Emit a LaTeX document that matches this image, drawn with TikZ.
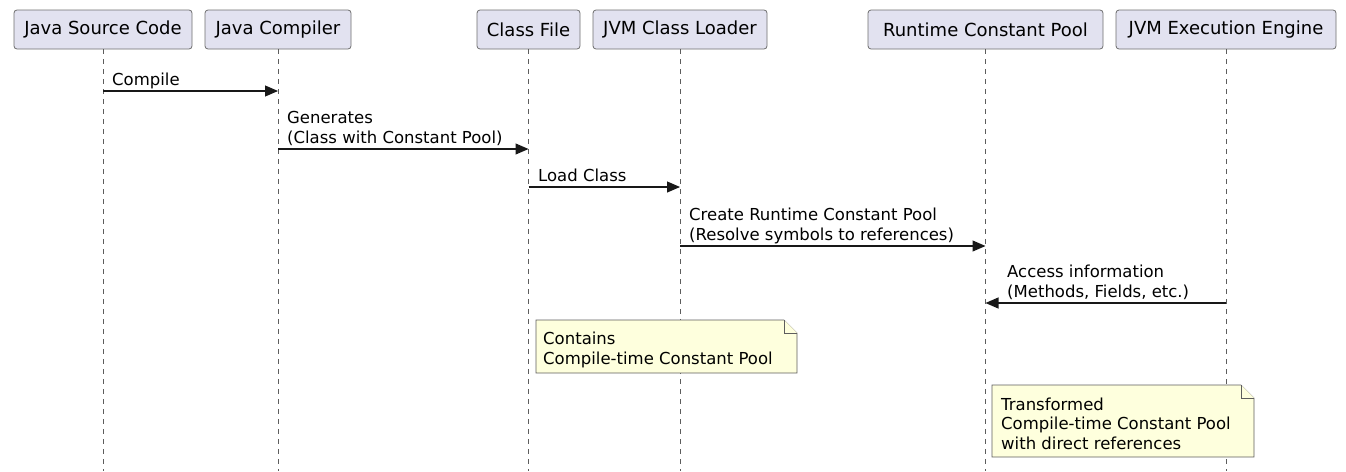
\documentclass[tikz,border=0pt]{standalone}
\usepackage{fontspec}
\setmainfont{DejaVu Sans}
\usetikzlibrary{arrows.meta}
\definecolor{partfill}{HTML}{E2E2F0}
\definecolor{partdraw}{HTML}{6E6E6E}
\definecolor{notefill}{HTML}{FEFFDD}
\definecolor{linecol}{HTML}{181818}
\tikzset{
  participant/.style={draw=partdraw, line width=0.8pt, fill=partfill, rounded corners=3pt,
    minimum height=39pt, inner sep=0pt, font=\fontsize{18}{21}\selectfont, text=black},
  lifeline/.style={draw=linecol!70, line width=0.6pt, dash pattern=on 5pt off 5pt},
  msg/.style={draw=linecol, line width=1.1pt, -{Triangle[length=13pt 0,width=11pt 0]}},
  msgtext/.style={inner sep=0pt, anchor=base west, align=left, font=\fontsize{16.5}{19.5}\selectfont, text=black},
  notebox/.style={draw=linecol!70, line width=0.6pt, fill=notefill},
  notetext/.style={inner sep=0pt, anchor=base west, align=left, font=\fontsize{16.5}{19.5}\selectfont, text=black}
}
\begin{document}
\begin{tikzpicture}[x=1pt,y=-1pt]
\useasboundingbox (0,0) rectangle (1346,471);
% participants
\node[participant, minimum width=178pt] (src) at (103,29.5) {Java Source Code};
\node[participant, minimum width=146pt] (cmp) at (278,29.5) {Java Compiler};
\node[participant, minimum width=103pt] (cls) at (528.5,29.5) {Class File};
\node[participant, minimum width=174pt] (ldr) at (680,29.5) {JVM Class Loader};
\node[participant, minimum width=235pt] (rcp) at (985.5,29.5) {Runtime Constant Pool};
\node[participant, minimum width=220pt] (eng) at (1226,29.5) {JVM Execution Engine};
% lifeline ends
\coordinate (srcE) at (src.south |- 0,471);
\coordinate (cmpE) at (cmp.south |- 0,471);
\coordinate (clsE) at (cls.south |- 0,471);
\coordinate (ldrE) at (ldr.south |- 0,471);
\coordinate (rcpE) at (rcp.south |- 0,471);
\coordinate (engE) at (eng.south |- 0,471);
\foreach \p in {src,cmp,cls,ldr,rcp,eng} { \draw[lifeline] (\p.south) -- (\p E); }
% message points
\coordinate (m1a) at (src.south |- 0,91);  \coordinate (m1b) at (cmp.south |- 0,91);
\coordinate (m2a) at (cmp.south |- 0,149); \coordinate (m2b) at (cls.south |- 0,149);
\coordinate (m3a) at (cls.south |- 0,187); \coordinate (m3b) at (ldr.south |- 0,187);
\coordinate (m4a) at (ldr.south |- 0,246); \coordinate (m4b) at (rcp.south |- 0,246);
\coordinate (m5a) at (eng.south |- 0,303); \coordinate (m5b) at (rcp.south |- 0,303);
\draw[msg] (m1a) -- (m1b);
\draw[msg] (m2a) -- (m2b);
\draw[msg] (m3a) -- (m3b);
\draw[msg] (m4a) -- (m4b);
\draw[msg] (m5a) -- (m5b);
\node[msgtext] (t1) at (112,85) {Compile};
\node[msgtext] (t2) at (287,143) {Generates\\(Class with Constant Pool)};
\node[msgtext] (t3) at (538,181) {Load Class};
\node[msgtext] (t4) at (689,240) {Create Runtime Constant Pool\\(Resolve symbols to references)};
\node[msgtext] (t5) at (1007,297) {Access information\\(Methods, Fields, etc.)};
% notes
\draw[notebox] (536,320) -- (784,320) -- (797,333) -- (797,373) -- (536,373) -- cycle;
\draw[notebox] (784,320) -- (784,333) -- (797,333);
\node[notetext] (n1) at (543,364) {Contains\\Compile-time Constant Pool};
\draw[notebox] (992,385) -- (1241,385) -- (1254,398) -- (1254,457) -- (992,457) -- cycle;
\draw[notebox] (1241,385) -- (1241,398) -- (1254,398);
\node[notetext] (n2) at (1001,449) {Transformed\\Compile-time Constant Pool\\with direct references};
\end{tikzpicture}
\end{document}
